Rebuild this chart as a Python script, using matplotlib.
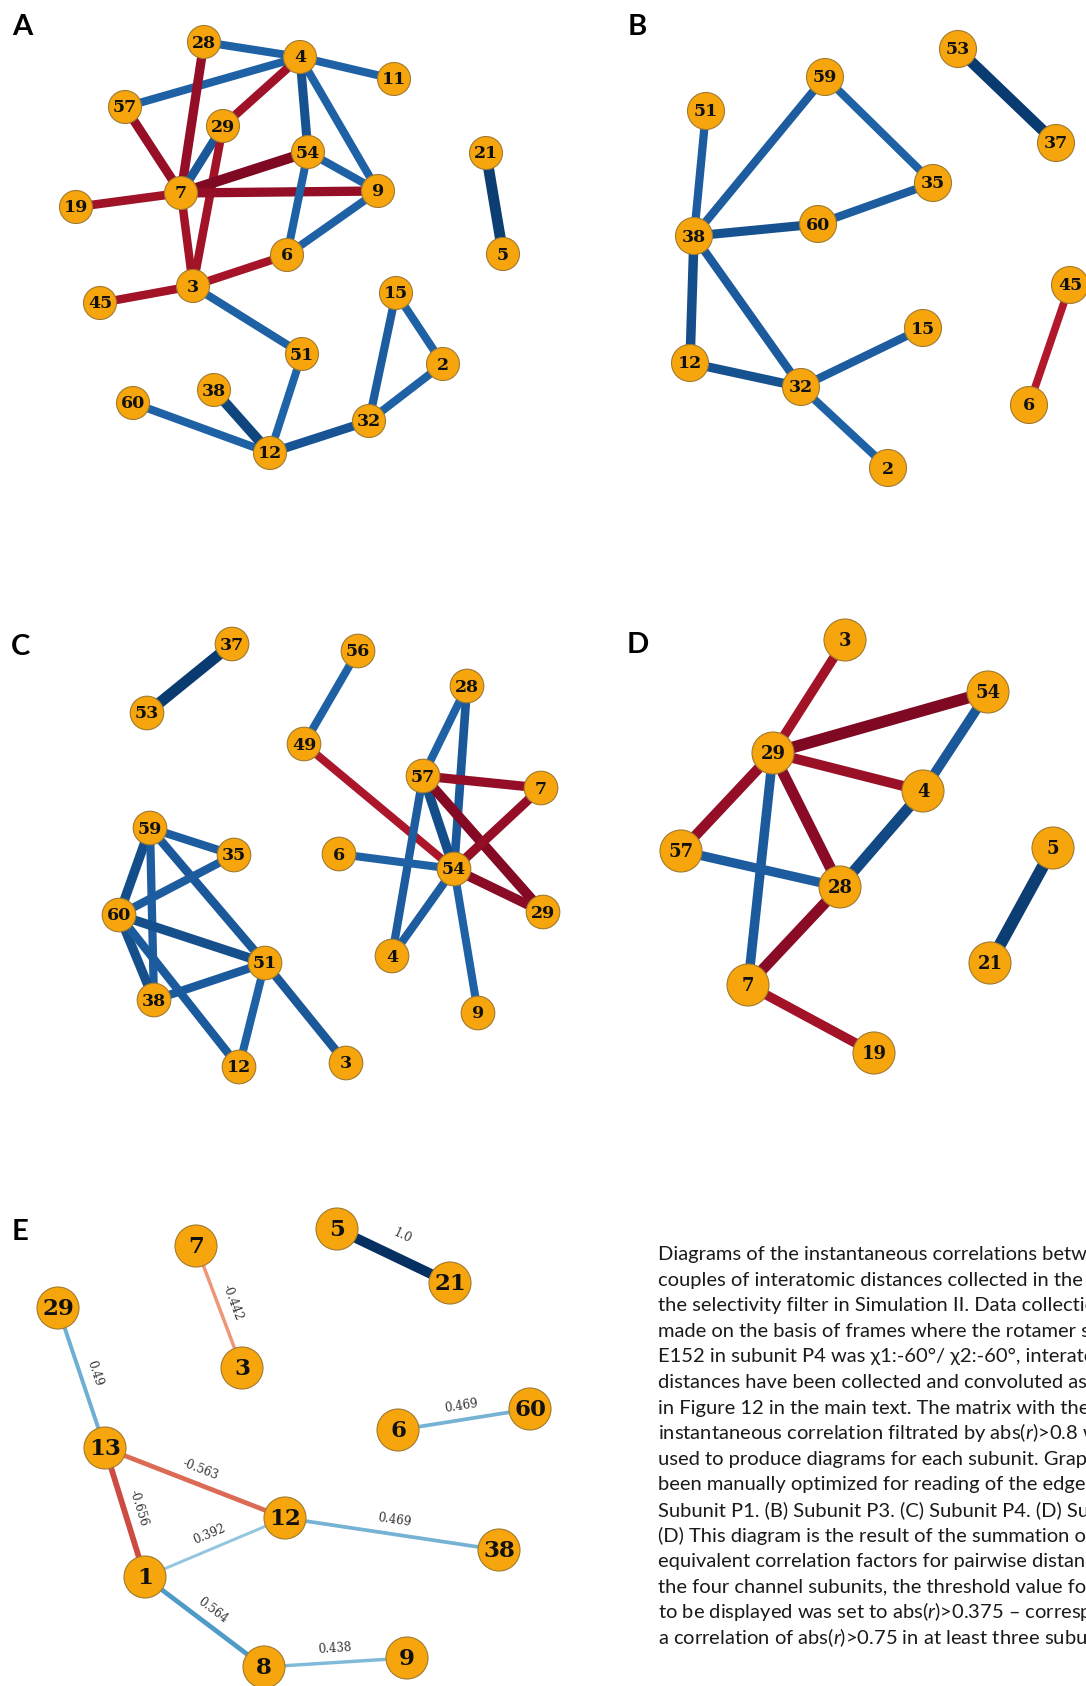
import numpy as np
import matplotlib.pyplot as plt
from matplotlib.patches import Circle
from matplotlib import colors

# 节点坐标（像素，原图 1086x1686，y 向下）
POS_A = {28: (204, 42), 4: (300, 57), 11: (394, 79), 57: (125, 107), 29: (223, 126),
         54: (308, 152), 7: (181, 193), 9: (378, 191), 19: (76, 207), 21: (486, 153),
         5: (503, 254), 6: (287, 255), 3: (193, 286), 45: (100, 303), 15: (396, 293),
         51: (302, 354), 2: (443, 364), 60: (133, 403), 38: (214, 390), 32: (369, 421),
         12: (270, 453)}
POS_B = {53: (958, 49), 59: (825, 77), 51: (706, 111), 37: (1056, 143), 35: (933, 183),
         60: (818, 224), 38: (694, 236), 45: (1070, 285), 15: (923, 328), 12: (690, 363),
         32: (801, 387), 6: (1029, 405), 2: (888, 468)}
POS_C = {37: (232, 644), 53: (147, 713), 56: (358, 651), 28: (467, 686), 49: (304, 744),
         57: (423, 776), 7: (541, 788), 59: (150, 828), 35: (234, 855), 6: (339, 854),
         54: (454, 869), 29: (543, 912), 60: (119, 915), 51: (265, 963), 4: (392, 956),
         38: (154, 1000), 9: (478, 1013), 12: (239, 1067), 3: (346, 1063)}
POS_D = {3: (845, 640), 54: (988, 692), 29: (773, 753), 4: (923, 791), 5: (1053, 848),
         57: (681, 851), 28: (840, 887), 21: (990, 963), 7: (748, 985), 19: (874, 1053)}
POS_E = {5: (337, 1229), 7: (196, 1246), 21: (450, 1283), 29: (58, 1308), 3: (242, 1368),
         60: (530, 1409), 6: (398, 1430), 13: (105, 1448), 12: (285, 1518), 38: (499, 1550),
         1: (145, 1577), 9: (407, 1658), 8: (264, 1667)}

# 边：(节点1, 节点2, 相关系数 r)
EDGES_A = [(28, 4, 0.82), (4, 11, 0.82), (4, 57, 0.82), (4, 29, -0.85), (4, 54, 0.87),
           (4, 9, 0.82), (28, 7, -0.88), (57, 7, -0.87), (29, 7, 0.85), (29, 3, -0.84),
           (7, 54, -0.93), (7, 9, -0.88), (19, 7, -0.85), (7, 3, -0.84), (54, 9, 0.82),
           (54, 6, 0.82), (9, 6, 0.82), (6, 3, -0.83), (45, 3, -0.84), (3, 51, 0.82),
           (51, 12, 0.81), (21, 5, 0.95), (15, 2, 0.82), (15, 32, 0.83), (2, 32, 0.82),
           (60, 12, 0.82), (38, 12, 0.92), (12, 32, 0.86)]
EDGES_B = [(53, 37, 0.96), (59, 38, 0.83), (59, 35, 0.82), (51, 38, 0.83), (35, 60, 0.83),
           (60, 38, 0.87), (38, 12, 0.89), (38, 32, 0.84), (12, 32, 0.87), (32, 15, 0.83),
           (32, 2, 0.82), (45, 6, -0.8)]
EDGES_C = [(37, 53, 0.96), (56, 49, 0.82), (49, 54, -0.82), (28, 57, 0.82), (28, 54, 0.85),
           (57, 7, -0.88), (57, 54, 0.89), (57, 29, -0.92), (57, 4, 0.83), (7, 54, -0.88),
           (6, 54, 0.82), (54, 29, -0.9), (54, 4, 0.83), (54, 9, 0.82), (59, 35, 0.83),
           (59, 60, 0.89), (59, 38, 0.83), (59, 51, 0.85), (35, 60, 0.83), (60, 51, 0.88),
           (60, 38, 0.88), (60, 12, 0.84), (38, 51, 0.84), (51, 12, 0.82), (51, 3, 0.85)]
EDGES_D = [(3, 29, -0.84), (29, 54, -0.93), (29, 4, -0.86), (29, 57, -0.88), (29, 28, -0.9),
           (29, 7, 0.84), (54, 4, 0.85), (4, 28, 0.9), (57, 28, 0.83), (28, 7, -0.9),
           (7, 19, -0.84), (5, 21, 0.95)]
EDGES_E = [(5, 21, 1.0), (7, 3, -0.442), (29, 13, 0.49), (6, 60, 0.469), (13, 12, -0.563),
           (13, 1, -0.656), (1, 12, 0.392), (12, 38, 0.469), (1, 8, 0.564), (8, 9, 0.438)]

PANEL_LETTERS = ["A", "B", "C", "D", "E"]
LETTER_POS = [(22, 27), (637, 27), (21, 647), (638, 645), (20, 1232)]

# 图注（原图右侧被裁切）
CAPTION = [
    "Diagrams of the instantaneous correlations between",
    "couples of interatomic distances collected in the region of",
    "the selectivity filter in Simulation II. Data collection was",
    "made on the basis of frames where the rotamer state of",
    "E152 in subunit P4 was χ1:-60°/ χ2:-60°, interatomic",
    "distances have been collected and convoluted as described",
    "in Figure 12 in the main text. The matrix with the",
    "instantaneous correlation filtrated by abs($r$)>0.8 was",
    "used to produce diagrams for each subunit. Graphs have",
    "been manually optimized for reading of the edges. (A)",
    "Subunit P1. (B) Subunit P3. (C) Subunit P4. (D) Subunit P2.",
    "(D) This diagram is the result of the summation of",
    "equivalent correlation factors for pairwise distances in",
    "the four channel subunits, the threshold value for edges",
    "to be displayed was set to abs($r$)>0.375 – corresponding to",
    "a correlation of abs($r$)>0.75 in at least three subunits.",
]

W, H, DPI = 1086, 1686, 100
PX = 72.0 / DPI  # 像素 -> 磅
NODE_COLOR = "#f6a50c"
NODE_EDGE = "#a07a30"

plt.rcParams["mathtext.fontset"] = "custom"
plt.rcParams["mathtext.rm"] = "Lato"
plt.rcParams["mathtext.it"] = "Lato:italic"

cmap = plt.get_cmap("RdBu")
norm = colors.Normalize(vmin=-1, vmax=1)


def draw_panel(ax, pos, edges, r_node, fs, width_fn, labels=False):
    for u, v, r in edges:
        (x1, y1), (x2, y2) = pos[u], pos[v]
        ax.plot([x1, x2], [y1, y2], color=cmap(norm(r)), lw=width_fn(r) * PX,
                solid_capstyle="butt", zorder=1)
        if labels:
            dx, dy = x2 - x1, y2 - y1
            n = np.array([dy, -dx]) / np.hypot(dx, dy)
            if n[1] > 0:
                n = -n
            off = 14 if abs(r) < 0.99 else 22
            mx, my = (x1 + x2) / 2 + off * n[0], (y1 + y2) / 2 + off * n[1]
            ang = np.degrees(np.arctan2(-dy, dx))
            if ang > 90:
                ang -= 180
            elif ang <= -90:
                ang += 180
            ax.text(mx, my, str(r), fontsize=8.5, family="DejaVu Serif", color="#333333",
                    rotation=ang, rotation_mode="anchor", ha="center", va="center", zorder=4)
    for k, (x, y) in pos.items():
        ax.add_patch(Circle((x, y), r_node, facecolor=NODE_COLOR, edgecolor=NODE_EDGE,
                            lw=0.8, zorder=2))
        ax.text(x, y + 1, str(k), fontsize=fs, family="DejaVu Serif", weight="bold",
                ha="center", va="center", color="#111111", zorder=3)


fig = plt.figure(figsize=(W / DPI, H / DPI), dpi=DPI)
ax = fig.add_axes([0, 0, 1, 1])
ax.set_xlim(0, W)
ax.set_ylim(H, 0)
ax.set_aspect("equal")
ax.axis("off")

w_main = lambda r: 12 * r ** 2
w_d = lambda r: 13.5 * r ** 2
w_e = lambda r: 10 * abs(r) ** 1.3

draw_panel(ax, POS_A, EDGES_A, 16.5, 12.5, w_main)
draw_panel(ax, POS_B, EDGES_B, 18.5, 12.5, w_main)
draw_panel(ax, POS_C, EDGES_C, 16.8, 12.5, w_main)
draw_panel(ax, POS_D, EDGES_D, 21, 13, w_d)
draw_panel(ax, POS_E, EDGES_E, 21, 16.5, w_e, labels=True)

for letter, (x, y) in zip(PANEL_LETTERS, LETTER_POS):
    ax.text(x, y, letter, fontsize=21, family=["Lato", "DejaVu Sans"], weight="bold",
            ha="center", va="center", color="black")

for i, line in enumerate(CAPTION):
    ax.text(658, 1260 + i * 25.6, line, fontsize=14.5, family=["Lato", "DejaVu Sans"],
            ha="left", va="baseline", color="#1a1a1a")

fig.savefig("out.png", dpi=DPI)
plt.close(fig)
